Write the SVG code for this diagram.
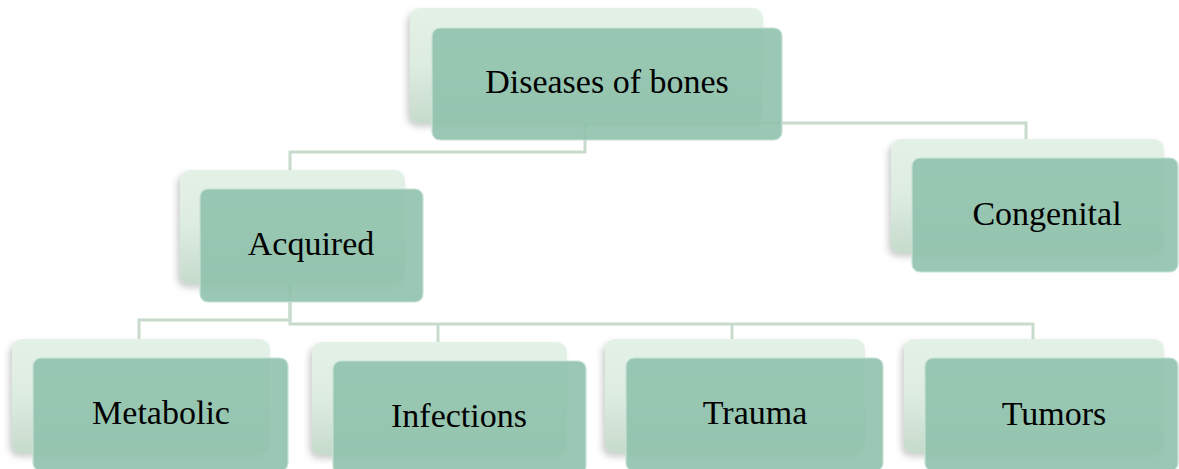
<svg xmlns="http://www.w3.org/2000/svg" width="1179" height="469" viewBox="0 0 1179 469">
<defs>
<linearGradient id="bg" x1="0" y1="0" x2="0" y2="1">
<stop offset="0" stop-color="#E4F1E7"/>
<stop offset="0.5" stop-color="#DDECE1"/>
<stop offset="1" stop-color="#C6DBCC"/>
</linearGradient>
<filter id="sh" x="-10%" y="-10%" width="120%" height="130%">
<feDropShadow dx="-3" dy="4" stdDeviation="3" flood-color="#6E7A72" flood-opacity="0.35"/>
</filter>
<filter id="sh2" x="-10%" y="-10%" width="120%" height="130%">
<feDropShadow dx="0" dy="1" stdDeviation="1.5" flood-color="#7FA892" flood-opacity="0.35"/>
</filter>
<style>
.back{fill:url(#bg);filter:url(#sh);}
.front{fill:#8FC2AC;fill-opacity:0.9;stroke:#C6E2D5;stroke-width:1.2;}
.lbl{font-family:"Liberation Serif","Times New Roman",serif;font-size:34px;fill:#000;text-anchor:middle;}
.con{fill:none;stroke:#C8DBCD;stroke-width:3;}
</style>
</defs>
<rect width="1179" height="469" fill="#FFFFFF"/>
<g id="connectors">
<path class="con" d="M290,170 V152 H585 V123 H1026 V139"/>
<path class="con" d="M290,284 V320 H139 V339"/>
<path class="con" d="M290,284 V324 H1033 V339"/>
<path class="con" d="M438,324 V342"/>
<path class="con" d="M732,324 V339"/>
</g>
<g id="node-diseases">
<rect class="back" x="410" y="8" width="353" height="115" rx="10"/>
<rect class="front" x="432" y="28" width="350" height="112" rx="8"/>
<text class="lbl" x="607" y="93">Diseases of bones</text>
</g>
<g id="node-acquired">
<rect class="back" x="180" y="170" width="225" height="114" rx="10"/>
<rect class="front" x="200" y="189" width="223" height="113" rx="8"/>
<text class="lbl" x="311" y="255">Acquired</text>
</g>
<g id="node-congenital">
<rect class="back" x="891" y="139" width="273" height="114" rx="10"/>
<rect class="front" x="912" y="158" width="266" height="114" rx="8"/>
<text class="lbl" x="1047" y="225">Congenital</text>
</g>
<g id="node-metabolic">
<rect class="back" x="12" y="339" width="258" height="114" rx="10"/>
<rect class="front" x="33" y="358" width="255" height="113" rx="8"/>
<text class="lbl" x="161" y="424">Metabolic</text>
</g>
<g id="node-infections">
<rect class="back" x="312" y="342" width="255" height="113" rx="10"/>
<rect class="front" x="333" y="361" width="253" height="113" rx="8"/>
<text class="lbl" x="459" y="427">Infections</text>
</g>
<g id="node-trauma">
<rect class="back" x="605" y="339" width="260" height="114" rx="10"/>
<rect class="front" x="626" y="358" width="257" height="113" rx="8"/>
<text class="lbl" x="755" y="424">Trauma</text>
</g>
<g id="node-tumors">
<rect class="back" x="904" y="339" width="260" height="114" rx="10"/>
<rect class="front" x="925" y="358" width="253" height="113" rx="8"/>
<text class="lbl" x="1054" y="425">Tumors</text>
</g>
</svg>
